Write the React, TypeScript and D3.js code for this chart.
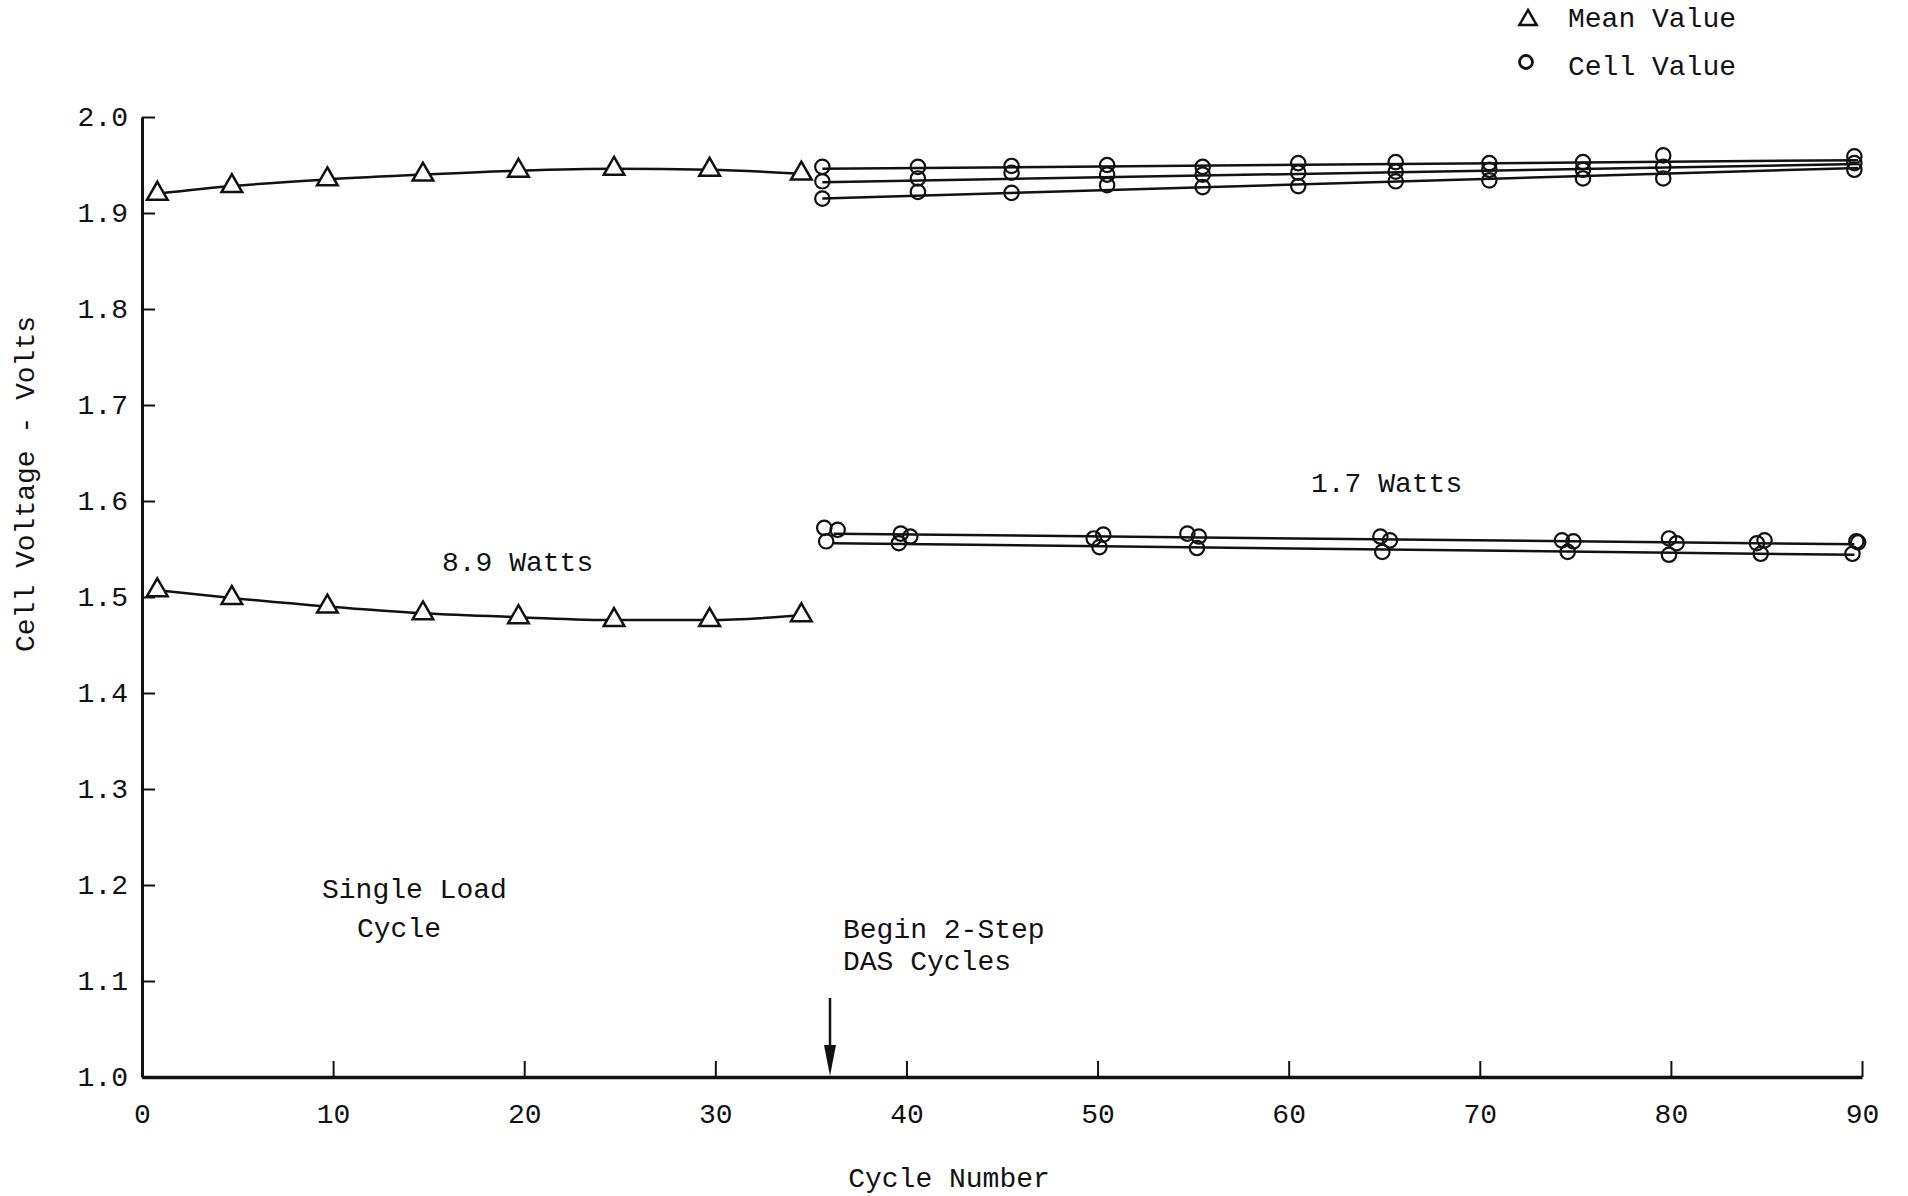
import React, { useRef, useEffect } from "react";
import * as d3 from "d3";

// axis ticks
const cycleTicks = [0, 10, 20, 30, 40, 50, 60, 70, 80, 90];
const voltTicks = [1.0, 1.1, 1.2, 1.3, 1.4, 1.5, 1.6, 1.7, 1.8, 1.9, 2.0];

// single load cycle mean values (triangles)
const meanCycles = [0.8, 4.7, 9.7, 14.7, 19.7, 24.7, 29.7, 34.5];
const meanHighVolts = [1.92, 1.928, 1.935, 1.94, 1.944, 1.946, 1.945, 1.941];
const meanLowVolts = [1.507, 1.499, 1.49, 1.483, 1.479, 1.476, 1.476, 1.481];

// 2-step DAS cycles, upper group (circles)
const upperCycles = [35.6, 40.6, 45.5, 50.5, 55.5, 60.5, 65.6, 70.5, 75.4, 79.6, 89.6];
const upperCellA = [1.948, 1.948, 1.949, 1.95, 1.948, 1.952, 1.953, 1.952, 1.953, 1.96, 1.959];
const upperCellB = [1.933, 1.936, 1.942, 1.94, 1.94, 1.942, 1.943, 1.945, 1.945, 1.948, 1.952];
const upperCellC = [1.915, 1.922, 1.921, 1.929, 1.927, 1.928, 1.933, 1.934, 1.936, 1.936, 1.945];
const upperFitCycles = [35.6, 89.8];
const upperFitA = [1.946, 1.955];
const upperFitB = [1.932, 1.951];
const upperFitC = [1.915, 1.947];

// 2-step DAS cycles, lower group (1.7 Watts)
const lowerCyclesA = [35.7, 39.7, 49.8, 54.7, 64.8, 74.3, 79.9, 84.5, 89.7];
const lowerCellA = [1.572, 1.566, 1.561, 1.566, 1.563, 1.559, 1.561, 1.556, 1.558];
const lowerCyclesB = [36.4, 40.2, 50.3, 55.3, 65.3, 74.9, 80.3, 84.9, 89.8];
const lowerCellB = [1.57, 1.563, 1.565, 1.563, 1.559, 1.558, 1.556, 1.559, 1.557];
const lowerCyclesC = [35.8, 39.6, 50.1, 55.2, 64.9, 74.6, 79.9, 84.7, 89.5];
const lowerCellC = [1.558, 1.556, 1.552, 1.551, 1.547, 1.547, 1.544, 1.545, 1.545];
const lowerFitCycles = [36.2, 89.6];
const lowerFitTop = [1.566, 1.555];
const lowerFitBottom = [1.556, 1.544];

const arrowCycle = 36;

const FONT = "'Liberation Mono', 'DejaVu Sans Mono', monospace";
const INK = "#111";

const App = () => {
  const svgRef = useRef(null);

  useEffect(() => {
    const svg = d3.select(svgRef.current);
    svg.selectAll("*").remove();

    const width = 1908,
      height = 1196,
      margin = { top: 117, right: 46, bottom: 119, left: 142 };

    const x = d3
      .scaleLinear()
      .domain([0, 90])
      .range([margin.left, width - margin.right]);
    const y = d3
      .scaleLinear()
      .domain([1.0, 2.0])
      .range([height - margin.bottom, margin.top]);

    // axes
    const xAxis = d3
      .axisBottom(x)
      .tickValues(cycleTicks)
      .tickSizeInner(-16)
      .tickSizeOuter(0)
      .tickPadding(26)
      .tickFormat(d3.format("d"));
    const yAxis = d3
      .axisLeft(y)
      .tickValues(voltTicks)
      .tickSizeInner(-13)
      .tickSizeOuter(0)
      .tickPadding(14)
      .tickFormat(d3.format(".1f"));

    const gx = svg
      .append("g")
      .attr("transform", `translate(0,${y(1.0)})`)
      .call(xAxis);
    const gy = svg
      .append("g")
      .attr("transform", `translate(${x(0)},0)`)
      .call(yAxis);

    [gx, gy].forEach((g) => {
      g.attr("font-family", FONT).attr("font-size", 28);
      g.selectAll("text").attr("fill", INK);
      g.selectAll("line").attr("stroke", INK).attr("stroke-width", 2);
      g.select(".domain").attr("stroke", INK).attr("stroke-width", 3);
    });
    gx.select(".domain").attr("stroke-width", 3.5);

    // axis titles
    svg
      .append("text")
      .attr("x", 949)
      .attr("y", 1180)
      .attr("text-anchor", "middle")
      .attr("dominant-baseline", "middle")
      .attr("font-family", FONT)
      .attr("font-size", 28)
      .attr("fill", INK)
      .text("Cycle Number");
    svg
      .append("text")
      .attr("transform", `translate(27,${484}) rotate(-90)`)
      .attr("text-anchor", "middle")
      .attr("dominant-baseline", "middle")
      .attr("font-family", FONT)
      .attr("font-size", 28)
      .attr("fill", INK)
      .text("Cell Voltage - Volts");

    const curve = d3
      .line()
      .x((d) => x(d[0]))
      .y((d) => y(d[1]))
      .curve(d3.curveMonotoneX);
    const straight = d3
      .line()
      .x((d) => x(d[0]))
      .y((d) => y(d[1]));

    const zip = (xs, ys) => xs.map((c, i) => [c, ys[i]]);

    // mean curves
    [meanHighVolts, meanLowVolts].forEach((vals) => {
      svg
        .append("path")
        .datum(zip(meanCycles, vals))
        .attr("d", curve)
        .attr("fill", "none")
        .attr("stroke", INK)
        .attr("stroke-width", 2.5);
    });

    // fitted lines
    [upperFitA, upperFitB, upperFitC].forEach((vals) => {
      svg
        .append("path")
        .datum(zip(upperFitCycles, vals))
        .attr("d", straight)
        .attr("fill", "none")
        .attr("stroke", INK)
        .attr("stroke-width", 2.5);
    });
    [lowerFitTop, lowerFitBottom].forEach((vals) => {
      svg
        .append("path")
        .datum(zip(lowerFitCycles, vals))
        .attr("d", straight)
        .attr("fill", "none")
        .attr("stroke", INK)
        .attr("stroke-width", 2.5);
    });

    // triangles
    const tri = d3.symbol(d3.symbolTriangle, 185);
    [meanHighVolts, meanLowVolts].forEach((vals) => {
      svg
        .append("g")
        .selectAll("path")
        .data(zip(meanCycles, vals))
        .enter()
        .append("path")
        .attr("d", tri)
        .attr("transform", (d) => `translate(${x(d[0])},${y(d[1])})`)
        .attr("fill", "white")
        .attr("stroke", INK)
        .attr("stroke-width", 2.5);
    });

    // circles
    const cellSets = [
      zip(upperCycles, upperCellA),
      zip(upperCycles, upperCellB),
      zip(upperCycles, upperCellC),
      zip(lowerCyclesA, lowerCellA),
      zip(lowerCyclesB, lowerCellB),
      zip(lowerCyclesC, lowerCellC),
    ];
    cellSets.forEach((pts) => {
      svg
        .append("g")
        .selectAll("circle")
        .data(pts)
        .enter()
        .append("circle")
        .attr("cx", (d) => x(d[0]))
        .attr("cy", (d) => y(d[1]))
        .attr("r", 7.2)
        .attr("fill", "none")
        .attr("stroke", INK)
        .attr("stroke-width", 2.2);
    });

    // annotations
    const note = (tx, ty, str) =>
      svg
        .append("text")
        .attr("x", tx)
        .attr("y", ty)
        .attr("dominant-baseline", "middle")
        .attr("font-family", FONT)
        .attr("font-size", 28)
        .attr("fill", INK)
        .text(str);
    note(442, 564, "8.9 Watts");
    note(1311, 485, "1.7 Watts");
    note(322, 891, "Single Load");
    note(357, 930, "Cycle");
    note(843, 931, "Begin 2-Step");
    note(843, 963, "DAS Cycles");

    // arrow
    const ax = x(arrowCycle);
    svg
      .append("line")
      .attr("x1", ax)
      .attr("x2", ax)
      .attr("y1", 998)
      .attr("y2", 1062)
      .attr("stroke", INK)
      .attr("stroke-width", 2.5);
    svg
      .append("path")
      .attr("d", `M${ax - 6},1045 L${ax + 6},1045 L${ax},1076 Z`)
      .attr("fill", INK);

    // legend
    svg
      .append("path")
      .attr("d", d3.symbol(d3.symbolTriangle, 130)())
      .attr("transform", "translate(1528,20)")
      .attr("fill", "white")
      .attr("stroke", INK)
      .attr("stroke-width", 2.5);
    svg
      .append("circle")
      .attr("cx", 1526)
      .attr("cy", 62)
      .attr("r", 6.5)
      .attr("fill", "none")
      .attr("stroke", INK)
      .attr("stroke-width", 2.8);
    note(1568, 20, "Mean Value");
    note(1568, 68, "Cell Value");
  }, []);

  return (
    <svg
      ref={svgRef}
      width={1908}
      height={1196}
      style={{ position: "absolute", left: 0, top: 0, display: "block", background: "white" }}
    ></svg>
  );
};

export default App;
